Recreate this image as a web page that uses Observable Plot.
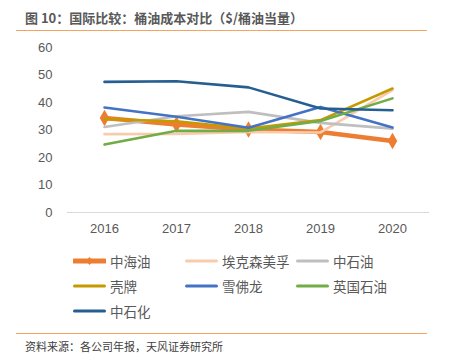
<!DOCTYPE html>
<html><head><meta charset="utf-8">
<script src="https://cdn.jsdelivr.net/npm/d3@7"></script>
<script src="https://cdn.jsdelivr.net/npm/@observablehq/plot@0.6"></script>
<style>
html,body{margin:0;padding:0;background:#fff;}
body{width:451px;height:355px;position:relative;overflow:hidden;font-family:"Liberation Sans","Noto Sans CJK SC",sans-serif;}
#title{position:absolute;left:25px;top:8px;font-size:13px;font-weight:bold;color:#595959;font-family:"Noto Sans CJK SC",sans-serif;letter-spacing:0px;}
.hr{position:absolute;left:16px;width:411px;height:1px;background:#F4A460;}
#chart{position:absolute;left:0;top:35px;}
#legend{position:absolute;left:0;top:250px;width:451px;}
.item{position:absolute;display:flex;align-items:center;font-size:13.5px;color:#595959;font-family:"Noto Sans CJK SC",sans-serif;height:22px;}
.item svg{margin-right:4px;}
#source{position:absolute;left:25px;top:338px;font-size:11px;color:#404040;font-family:"Noto Sans CJK SC",sans-serif;}
</style></head>
<body>
<div id="title">图 10：国际比较：桶油成本对比（$/桶油当量）</div>
<div class="hr" style="top:30px"></div>
<div id="chart"></div>
<div id="legend"></div>
<div class="hr" style="top:333px"></div>
<div id="source">资料来源：各公司年报，天风证券研究所</div>
<script>
const years = ["2016","2017","2018","2019","2020"];
const seriesNames = ["中海油","埃克森美孚","中石油","壳牌","雪佛龙","英国石油","中石化"];
const seriesColors = ["#ED7D31","#F8CBAD","#BFBFBF","#C59A00","#4472C4","#70AD47","#255E91"];
const cnooc   = [34.4, 32.0, 30.2, 29.3, 26.0];
const exxon   = [28.5, 28.6, 29.3, 29.1, 44.5];
const petro   = [31.1, 35.0, 36.6, 32.6, 30.5];
const shell   = [33.9, 33.2, 30.5, 33.6, 45.1];
const chevron = [38.2, 34.8, 30.8, 38.4, 30.9];
const bp      = [24.7, 29.7, 29.7, 33.3, 41.5];
const sinopec = [47.5, 47.7, 45.5, 37.8, 37.2];
const yTicks = [0,10,20,30,40,50,60];

const valueLists = [cnooc, exxon, petro, shell, chevron, bp, sinopec];
const data = [];
seriesNames.forEach((s,i)=>years.forEach((y,j)=>data.push({series:s, year:y, value:valueLists[i][j]})));

const marks = [
  Plot.ruleY([0], {stroke:"#D9D9D9", strokeWidth:1.2})
];
seriesNames.forEach((s,i)=>{
  const d = data.filter(r=>r.series===s);
  marks.push(Plot.line(d, {x:"year", y:"value", stroke:seriesColors[i], strokeWidth: i===0?4.5:2.6, strokeLinejoin:"round", strokeLinecap:"round"}));
  if(i===0) marks.push(Plot.dot(d, {x:"year", y:"value", symbol:"diamond", r:5, fill:seriesColors[i], stroke:"none"}));
});

const chart = Plot.plot({
  width:451, height:205,
  marginLeft:67, marginRight:22, marginTop:12, marginBottom:28,
  style:{fontFamily:"Liberation Sans, sans-serif", fontSize:"13px", color:"#595959", background:"transparent"},
  x:{type:"point", domain:years, padding:0.5, label:null, tickSize:0, tickPadding:11},
  y:{domain:[0,60], ticks:yTicks, label:null, tickSize:0, tickPadding:15},
  marks
});
document.getElementById("chart").appendChild(chart);

// legend
const leg = document.getElementById("legend");
const cols = [73,185,296];
seriesNames.forEach((s,i)=>{
  const row = Math.floor(i/3), col = i%3;
  const div = document.createElement("div");
  div.className="item";
  div.style.left = cols[col]+"px";
  div.style.top = (row*25)+"px";
  const sw = i===0?5:3;
  let svg = `<svg width="33" height="12"><line x1="1.5" y1="6" x2="31.5" y2="6" stroke="${seriesColors[i]}" stroke-width="${sw}" stroke-linecap="round"/>`;
  if(i===0) svg += `<path d="M16.5 2 L20 6 L16.5 10 L13 6 Z" fill="${seriesColors[i]}"/>`;
  svg += `</svg>`;
  div.innerHTML = svg + `<span>${s}</span>`;
  leg.appendChild(div);
});
</script>
</body></html>
